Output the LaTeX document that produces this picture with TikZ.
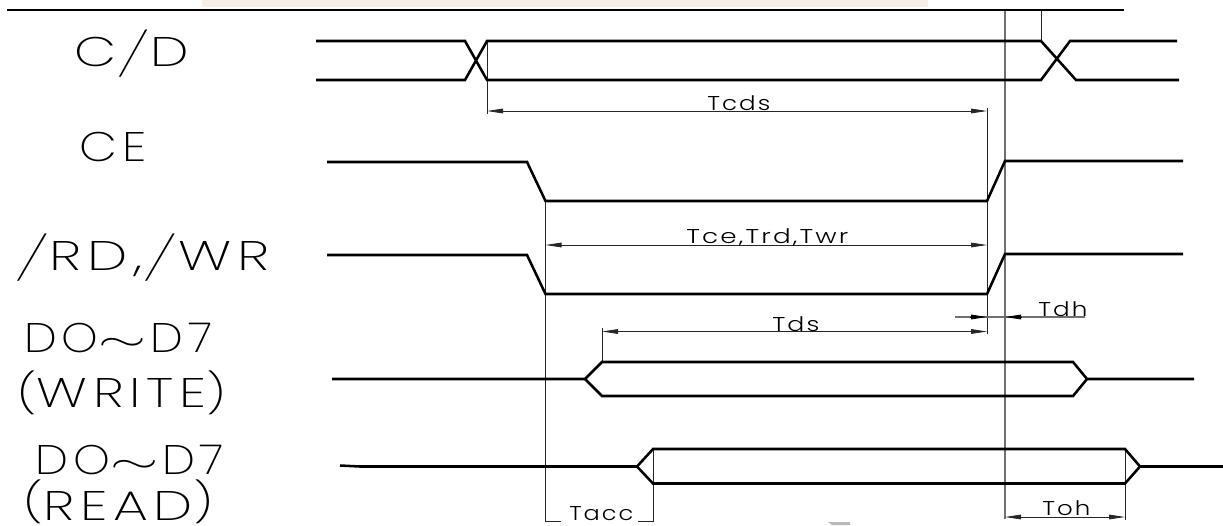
\documentclass[tikz,border=0pt]{standalone}
\usepackage{fontspec}
\usepackage{graphicx}
\usetikzlibrary{arrows.meta}
\setmainfont{Poppins}[UprightFont=*-Light]
\newfontfamily\biglab{Poppins}[UprightFont=*-ExtraLight,LetterSpace=12,FakeStretch=1.15]
\newfontfamily\smalllab{Poppins}[UprightFont=*-Light,LetterSpace=10,FakeStretch=1.2]
\newfontfamily\thinlab{Poppins}[UprightFont=*-Thin]
\definecolor{band}{HTML}{F8EEE8}
\definecolor{faint}{HTML}{707070}
\definecolor{greymark}{HTML}{B8B8B8}
\newcommand{\bigslash}{\raisebox{-3pt}{\scalebox{2.0}[1.05]{\thinlab /}}}
\newcommand{\bigtilde}{\raisebox{1pt}{\scalebox{1.9}[1]{$\sim$}}\hspace{3pt}}
\newcommand{\lpar}[1]{\raisebox{#1}{\scalebox{0.95}{(}}}
\newcommand{\rpar}[1]{\raisebox{#1}{\scalebox{0.95}{)}}}
\newcommand{\fitbig}[2]{\resizebox{\dimexpr #1pt*3/4\relax}{\height}{#2\kern-3.7pt}}
\newcommand{\fitsmall}[2]{\resizebox{\dimexpr #1pt*3/4\relax}{\height}{#2\kern-1.5pt}}
\tikzset{
  sig/.style={line width=1.9pt,line join=miter,black},
  rulel/.style={line width=1.6pt,black},
  ext/.style={line width=0.6pt,black!85},
  extg/.style={line width=0.8pt,faint},
  dim/.style={line width=0.6pt,black!85,{Triangle[length=12pt,width=3.5pt]}-{Triangle[length=12pt,width=3.5pt]}},
  biglabel/.style={font=\biglab\fontsize{31}{31}\selectfont,inner sep=0pt,anchor=base west},
  timelabel/.style={font=\smalllab\fontsize{15}{15}\selectfont,inner sep=0pt,anchor=base west},
}
\begin{document}
\begin{tikzpicture}[x=0.75pt,y=-0.75pt]
\useasboundingbox (0,0) rectangle (1223,525);
\fill[band] (202,0) rectangle (928,7);
\fill[greymark] (828,522) -- (850,522) -- (850,525) -- (832,525) -- cycle;
% named reference points
\coordinate (topA) at (1005,10);
\coordinate (topB) at (1041,10);
\coordinate (cdB) at (1041,41);
\coordinate (cdA) at (487,41);
\coordinate (tcdsL) at (487,111);
\coordinate (tcdsR) at (987,111);
\coordinate (ceL) at (545.5,201);
\coordinate (tceL) at (545.5,245);
\coordinate (tceR) at (987,245);
\coordinate (tdsL) at (602,331.5);
\coordinate (tdsR) at (987,331.5);
\coordinate (wrTop) at (602,362);
\coordinate (tdhL) at (955,317);
\coordinate (tdhR) at (1085,317);
\coordinate (tdhA) at (987,317);
\coordinate (tdhB) at (1005,317);
\coordinate (tohL) at (1005,517);
\coordinate (tohR) at (1125,517);
\coordinate (rdTopR) at (1125,449);
\coordinate (rdTopL) at (653,449);
\coordinate (taccL) at (545.5,521);
\coordinate (taccR) at (653,521);
\coordinate (taccLe) at (561,521);
\coordinate (taccRe) at (638,521);
\coordinate (ceBot) at (987,201);
% extension lines
\draw[extg] (topA) -- (1005,519);
\draw[ext] (topB) -- (cdB);
\draw[ext] (cdA) -- (487,114);
\draw[ext] (ceBot) -- (987,334);
\draw[ext] (987,108) -- (ceBot);
\draw[ext] (ceL) -- (taccL) -- (taccLe);
\draw[ext] (rdTopL) -- (taccR) -- (taccRe);
\draw[ext] (rdTopR) -- (1125,520);
\draw[ext] (wrTop) -- (602,328);
% dimension arrows
\draw[dim] (tcdsL) -- (tcdsR);
\draw[dim] (tceL) -- (tceR);
\draw[dim] (tdsL) -- (tdsR);
\draw[dim] (tohL) -- (tohR);
\draw[extg] (tdhL) -- (tdhR);
\draw[line width=0.6pt,-{Triangle[length=12pt,width=3.5pt]}] (970,317) -- (tdhA);
\draw[line width=0.6pt,-{Triangle[length=12pt,width=3.5pt]}] (1021,317) -- (tdhB);
% signals
\draw[rulel] (7,10) -- (1124,10);
\draw[sig] (316,41) -- (465,41) -- (487,80) -- (1041,80) -- (1070,41) -- (1177,41);
\draw[sig] (316,80) -- (465,80) -- (487,41) -- (1041,41) -- (1076,80) -- (1179,80);
\draw[sig] (327,162) -- (527,162) -- (545.5,201) -- (987,201) -- (1005,161) -- (1183,161);
\draw[sig] (327,255) -- (527,255) -- (545.5,294) -- (987,294) -- (1005,254) -- (1183,254);
\draw[sig] (332,379) -- (585,379) -- (602,362) -- (1073,362) -- (1087,379) -- (1194,379);
\draw[sig] (585,379) -- (602,396) -- (1073,396) -- (1087,379);
\draw[sig] (340,465.5) -- (360,466.5) -- (637,466.5) -- (653,449) -- (1125,449) -- (1140,466.5) -- (1223,466.5);
\draw[sig] (637,466.5) -- (653,483.5) -- (1125,483.5) -- (1140,466.5);
% labels
\node[biglabel] (lcd) at (74,66.5) {\fitbig{109}{C\bigslash D}};
\node[biglabel] (lce) at (79,161.5) {\fitbig{62}{CE}};
\node[biglabel] (lrd) at (14,270.5) {\fitbig{249}{\bigslash RD,\bigslash WR}};
\node[biglabel] (ld1) at (24,352) {\fitbig{183}{DO\bigtilde D7}};
\node[biglabel] (lw) at (17,407) {\fitbig{203}{\lpar{0pt}WRITE\rpar{0pt}}};
\node[biglabel] (ld2) at (35,474) {\fitbig{184}{DO\bigtilde D7}};
\node[biglabel] (lr) at (23,520) {\fitbig{184}{\lpar{3pt}READ\rpar{3pt}}};
\node[timelabel] (tcds) at (707,110) {\fitsmall{61}{Tcds}};
\node[timelabel] (tce) at (686,243) {\fitsmall{160}{Tce,Trd,Twr}};
\node[timelabel] (tds) at (772,331) {\fitsmall{45}{Tds}};
\node[timelabel] (tdh) at (1038,316) {\fitsmall{47}{Tdh}};
\node[timelabel] (toh) at (1042,515) {\fitsmall{46}{Toh}};
\node[timelabel] (tacc) at (569,520) {\fitsmall{62}{Tacc}};
\end{tikzpicture}
\end{document}
